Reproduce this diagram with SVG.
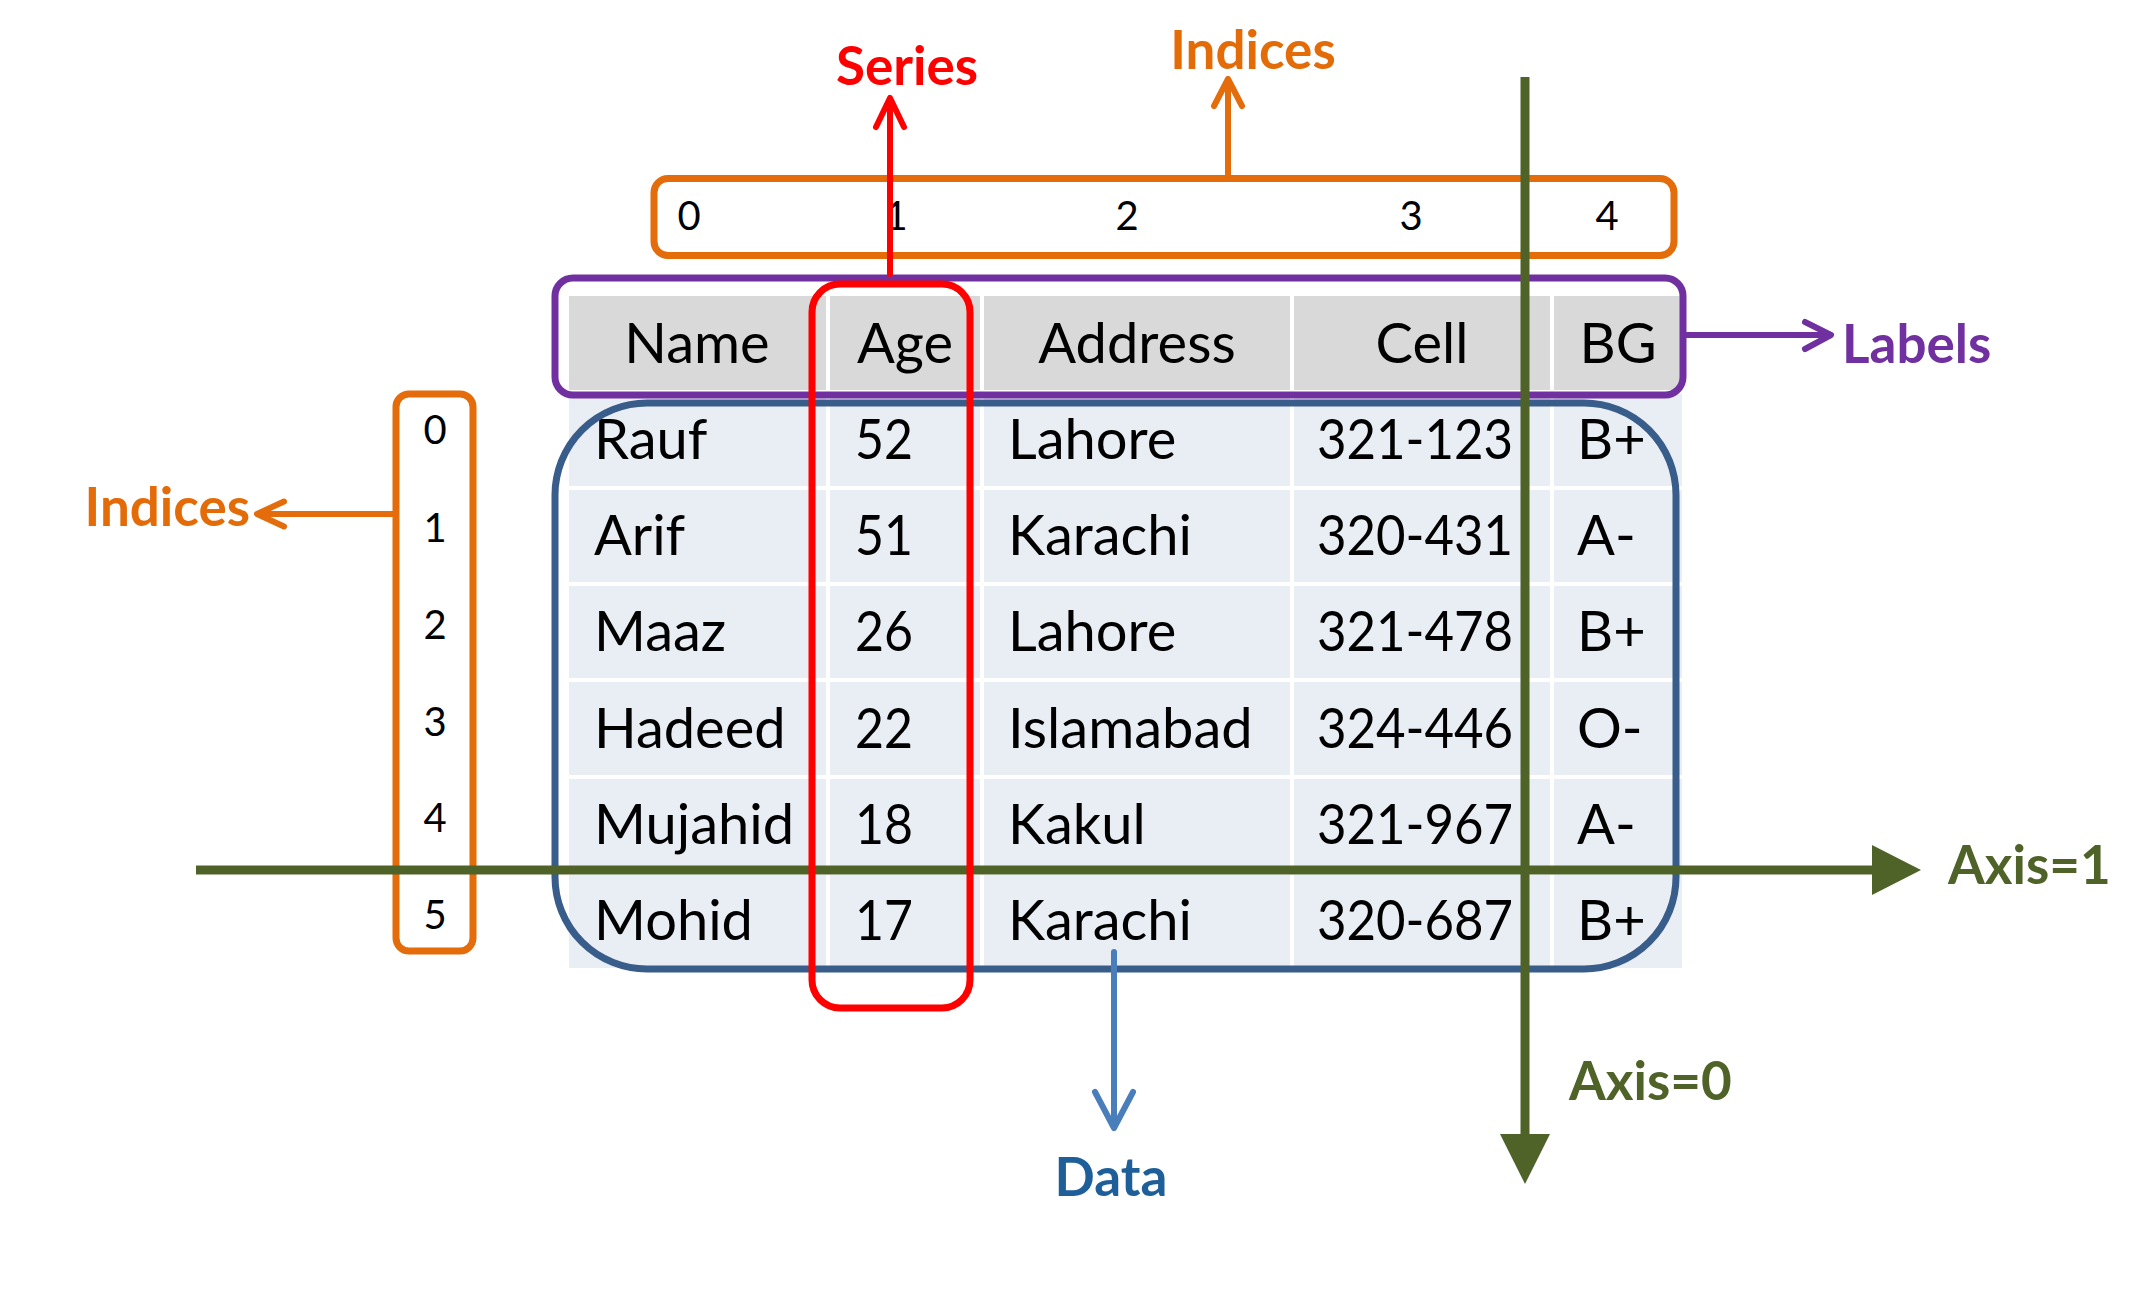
<svg xmlns="http://www.w3.org/2000/svg" width="2156" height="1292" viewBox="0 0 2156 1292">
<style>
.t{font-family:Lato,"Open Sans","Liberation Sans",sans-serif;font-size:56px;fill:#000}
.hc{text-anchor:middle}
.ix{font-family:Lato,"Open Sans","Liberation Sans",sans-serif;font-size:40px;fill:#000;text-anchor:middle}
.lb{font-family:Lato,"Open Sans","Liberation Sans",sans-serif;font-size:53px;font-weight:bold}
.sep{stroke:#fff;stroke-width:4}
.open{fill:none;stroke-linecap:round;stroke-linejoin:round}
</style>
<rect width="2156" height="1292" fill="#fff"/>
<g id="table">
<rect x="569" y="296" width="1113" height="94" fill="#D9D9D9"/>
<rect x="569" y="394" width="1113" height="574" fill="#E9EDF4"/>
<g class="sep">
<line x1="828" y1="296" x2="828" y2="968"/>
<line x1="982" y1="296" x2="982" y2="968"/>
<line x1="1292" y1="296" x2="1292" y2="968"/>
<line x1="1552" y1="296" x2="1552" y2="968"/>
<line x1="569" y1="392" x2="1682" y2="392"/>
<line x1="569" y1="488" x2="1682" y2="488"/>
<line x1="569" y1="584" x2="1682" y2="584"/>
<line x1="569" y1="680" x2="1682" y2="680"/>
<line x1="569" y1="777" x2="1682" y2="777"/>
<line x1="569" y1="873" x2="1682" y2="873"/>
</g>
<g class="t hc">
<text x="697" y="363">Name</text>
<text x="905" y="363">Age</text>
<text x="1137" y="363">Address</text>
<text x="1422" y="363">Cell</text>
<text x="1618" y="363">BG</text>
</g>
<g class="t">
<text x="594" y="459">Rauf</text><text x="855" y="459" textLength="58" lengthAdjust="spacingAndGlyphs">52</text><text x="1008" y="459">Lahore</text><text x="1317" y="459" textLength="196" lengthAdjust="spacingAndGlyphs">321-123</text><text x="1577" y="459">B+</text>
<text x="594" y="555">Arif</text><text x="855" y="555" textLength="58" lengthAdjust="spacingAndGlyphs">51</text><text x="1008" y="555">Karachi</text><text x="1317" y="555" textLength="196" lengthAdjust="spacingAndGlyphs">320-431</text><text x="1577" y="555">A-</text>
<text x="594" y="651">Maaz</text><text x="855" y="651" textLength="58" lengthAdjust="spacingAndGlyphs">26</text><text x="1008" y="651">Lahore</text><text x="1317" y="651" textLength="196" lengthAdjust="spacingAndGlyphs">321-478</text><text x="1577" y="651">B+</text>
<text x="594" y="748">Hadeed</text><text x="855" y="748" textLength="58" lengthAdjust="spacingAndGlyphs">22</text><text x="1008" y="748">Islamabad</text><text x="1317" y="748" textLength="196" lengthAdjust="spacingAndGlyphs">324-446</text><text x="1577" y="748">O-</text>
<text x="594" y="844">Mujahid</text><text x="855" y="844" textLength="58" lengthAdjust="spacingAndGlyphs">18</text><text x="1008" y="844">Kakul</text><text x="1317" y="844" textLength="196" lengthAdjust="spacingAndGlyphs">321-967</text><text x="1577" y="844">A-</text>
<text x="594" y="940">Mohid</text><text x="855" y="940" textLength="58" lengthAdjust="spacingAndGlyphs">17</text><text x="1008" y="940">Karachi</text><text x="1317" y="940" textLength="196" lengthAdjust="spacingAndGlyphs">320-687</text><text x="1577" y="940">B+</text>
</g>
</g>
<g id="data-box">
<rect x="555" y="403" width="1121" height="566" rx="92" ry="92" fill="none" stroke="#385D8A" stroke-width="7"/>
</g>
<g id="col-indices">
<rect x="654" y="178.5" width="1020" height="77" rx="14" fill="none" stroke="#E46C0A" stroke-width="7"/>
<g class="ix">
<text x="689" y="230">0</text><text x="896" y="230">1</text><text x="1127" y="230">2</text><text x="1411" y="230">3</text><text x="1607" y="230">4</text>
</g>
</g>
<g id="row-indices">
<rect x="396" y="394" width="77" height="557" rx="13" fill="none" stroke="#E46C0A" stroke-width="7"/>
<g class="ix">
<text x="435" y="444">0</text><text x="435" y="542">1</text><text x="435" y="639">2</text><text x="435" y="736">3</text><text x="435" y="832">4</text><text x="435" y="929">5</text>
</g>
</g>
<g id="labels-box">
<rect x="555" y="278" width="1128" height="117" rx="18" fill="none" stroke="#7030A0" stroke-width="7"/>
</g>
<g id="connectors">
<g id="axis-lines" fill="#4F6228" stroke="#4F6228">
<line x1="196" y1="870" x2="1874" y2="870" stroke-width="9"/>
<polygon points="1872,845 1921,870 1872,895" stroke="none"/>
<line x1="1525" y1="77" x2="1525" y2="1136" stroke-width="9"/>
<polygon points="1500,1134 1550,1134 1525,1184" stroke="none"/>
</g>
<g stroke="#FF0000" stroke-width="6" class="open">
<line x1="890" y1="274" x2="890" y2="100"/>
<polyline points="876,127 890,98 904,127"/>
</g>
<g stroke="#E46C0A" stroke-width="6" class="open">
<line x1="1228" y1="175" x2="1228" y2="81"/>
<polyline points="1214,106 1228,79 1242,106"/>
<line x1="393" y1="514" x2="259" y2="514"/>
<polyline points="284,501.5 257,514 284,526.5"/>
</g>
<g stroke="#7030A0" stroke-width="6" class="open">
<line x1="1687" y1="335" x2="1829" y2="335"/>
<polyline points="1805,322 1831,335 1805,349"/>
</g>
<g stroke="#4A7EBB" stroke-width="6" class="open">
<line x1="1114" y1="952" x2="1114" y2="1126"/>
<polyline points="1095,1092 1114,1128 1133,1092"/>
</g>
</g>
<g id="series-box">
<rect x="812" y="284" width="158" height="724" rx="28" fill="none" stroke="#FF0000" stroke-width="7"/>
</g>
<g id="annotations" class="lb">
<text x="907" y="85" fill="#FF0000" text-anchor="middle">Series</text>
<text x="1253" y="69" fill="#E36C09" text-anchor="middle">Indices</text>
<text x="250" y="526" fill="#E36C09" text-anchor="end">Indices</text>
<text x="1842" y="363" fill="#7030A0">Labels</text>
<text x="1948" y="884" fill="#4F6228">Axis=1</text>
<text x="1569" y="1100" fill="#4F6228">Axis=0</text>
<text x="1111" y="1196" fill="#1F5F99" text-anchor="middle">Data</text>
</g>
</svg>
